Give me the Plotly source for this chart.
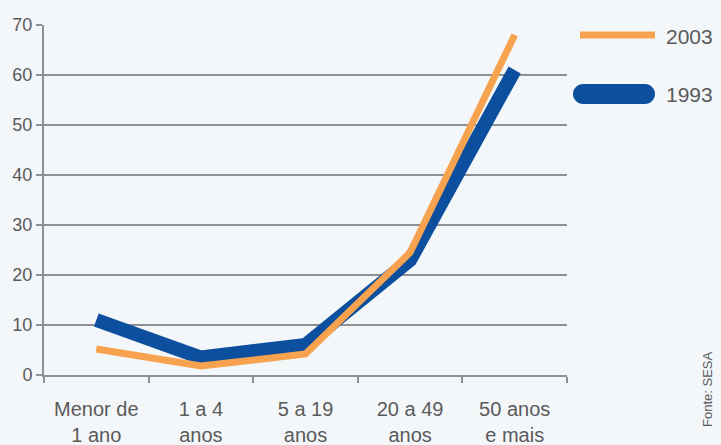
import plotly.graph_objects as go

categories = ["Menor de<br>1 ano", "1 a 4<br>anos", "5 a 19<br>anos", "20 a 49<br>anos", "50 anos<br>e mais"]
values_2003 = [5.2, 1.8, 4.2, 24.5, 68.0]
values_1993 = [11.0, 3.5, 6.0, 23.0, 61.0]
y_ticks = [0, 10, 20, 30, 40, 50, 60, 70]
series_names = ["2003", "1993"]

BG = "#f4f7fa"
ORANGE = "#f6a24e"
BLUE = "#0b4f9e"
TXT = "#5a5a5a"
GRID = "#8e9094"
FONT = "Liberation Sans, Arial, sans-serif"

L, R, T, B = 44, 154, 25, 70
W, H = 721, 445
PW, PH = W - L - R, H - T - B


def px_x(x):
    return (x - L) / PW


def px_y(y):
    return (H - B - y) / PH


fig = go.Figure()
fig.add_trace(go.Scatter(x=categories, y=values_1993, mode="lines", name=series_names[1],
                         line=dict(color=BLUE, width=14), cliponaxis=False, showlegend=False))
fig.add_trace(go.Scatter(x=categories, y=values_2003, mode="lines", name=series_names[0],
                         line=dict(color=ORANGE, width=7), cliponaxis=False, showlegend=False))

fig.update_layout(
    width=W, height=H,
    margin=dict(l=L, r=R, t=T, b=B, autoexpand=False),
    paper_bgcolor=BG, plot_bgcolor=BG,
    font=dict(family=FONT, color=TXT, size=18),
)
fig.update_xaxes(type="category", tickson="boundaries", ticks="outside", ticklen=6,
                 tickcolor=GRID, tickwidth=2, showgrid=False, showline=True,
                 linecolor=GRID, linewidth=2, tickfont=dict(size=20, color=TXT, family=FONT),
                 ticklabelstandoff=15, range=[-0.5, 4.5], automargin=False)
fig.update_yaxes(range=[0, 70], tickvals=y_ticks, showgrid=True, gridcolor=GRID,
                 gridwidth=2, zeroline=False, showline=True, linecolor=GRID, linewidth=2,
                 ticks="outside", ticklen=6, tickcolor=GRID, tickwidth=2,
                 tickfont=dict(size=18, color=TXT, family=FONT), automargin=False)

# custom legend
fig.add_shape(type="line", xref="paper", yref="paper", x0=px_x(580), x1=px_x(655),
              y0=px_y(35), y1=px_y(35), line=dict(color=ORANGE, width=7))
# blue pill (rounded ends)
r = 10
half = 31
k = 0.5523 * r
pill = (f"M {-half},{-r} L {half},{-r} "
        f"C {half + k},{-r} {half + r},{-k} {half + r},0 "
        f"C {half + r},{k} {half + k},{r} {half},{r} "
        f"L {-half},{r} "
        f"C {-half - k},{r} {-half - r},{k} {-half - r},0 "
        f"C {-half - r},{-k} {-half - k},{-r} {-half},{-r} Z")
fig.add_shape(type="path", xref="paper", yref="paper", xsizemode="pixel", ysizemode="pixel",
              xanchor=px_x(614), yanchor=px_y(94), path=pill,
              fillcolor=BLUE, line=dict(width=0))
fig.add_annotation(xref="paper", yref="paper", x=px_x(664), y=px_y(36), text=series_names[0],
                   showarrow=False, xanchor="left", yanchor="middle",
                   font=dict(size=21, color=TXT, family=FONT))
fig.add_annotation(xref="paper", yref="paper", x=px_x(664), y=px_y(95), text=series_names[1],
                   showarrow=False, xanchor="left", yanchor="middle",
                   font=dict(size=21, color=TXT, family=FONT))
fig.add_annotation(xref="paper", yref="paper", x=px_x(707), y=px_y(390), text="Fonte: SESA",
                   textangle=-90, showarrow=False, xanchor="center", yanchor="middle",
                   font=dict(size=13, color=TXT, family=FONT))

fig.write_html("out.html")
